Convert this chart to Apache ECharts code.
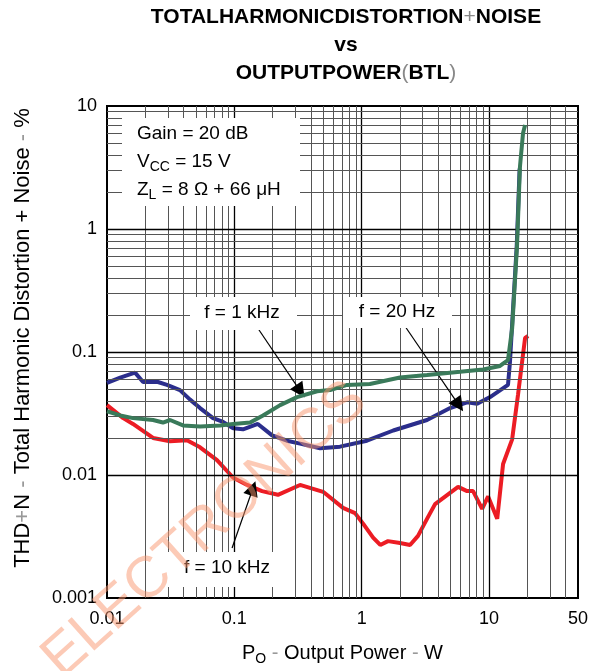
<!DOCTYPE html>
<html>
<head>
<meta charset="utf-8">
<script src="https://cdn.jsdelivr.net/npm/echarts@6/dist/echarts.min.js"></script>
<style>
  html, body { margin: 0; padding: 0; background: #fff; }
  #chart { width: 602px; height: 671px; }
</style>
</head>
<body>
<div id="chart"></div>
<script>
  // THD+N vs output power (BTL)
  // [output power W, THD+N %]
  var f20Hz = [
    [0.01, 0.056], [0.0127, 0.062], [0.0166, 0.068], [0.0192, 0.057], [0.0251, 0.057],
    [0.0296, 0.054], [0.0374, 0.049], [0.0449, 0.041], [0.0538, 0.035], [0.068, 0.029],
    [0.0815, 0.027], [0.098, 0.024], [0.117, 0.0235], [0.153, 0.026], [0.198, 0.021],
    [0.259, 0.019], [0.328, 0.018], [0.471, 0.0165], [0.676, 0.017], [1.1, 0.019],
    [1.77, 0.023], [3.26, 0.028], [4.95, 0.035], [6.73, 0.039], [8.07, 0.038],
    [10.2, 0.043], [14.1, 0.054], [14.6, 0.082], [15.1, 0.15], [16.5, 0.72],
    [17.4, 3.1]
  ];
  var f1kHz = [
    [0.01, 0.033], [0.0127, 0.0305], [0.016, 0.029], [0.023, 0.028], [0.0275, 0.0267],
    [0.0313, 0.028], [0.0395, 0.0253], [0.0538, 0.0248], [0.0773, 0.0253], [0.098, 0.026],
    [0.133, 0.0267], [0.168, 0.0305], [0.229, 0.037], [0.311, 0.043], [0.447, 0.048],
    [0.565, 0.049], [0.768, 0.054], [1.16, 0.055], [2.0, 0.062], [3.26, 0.065],
    [5.93, 0.069], [9.0, 0.072], [12.2, 0.077], [14.1, 0.086], [15.2, 0.156],
    [16.6, 0.73], [17.5, 3.2], [18.5, 6.0], [19.2, 7.0]
  ];
  var f10kHz = [
    [0.01, 0.037], [0.0134, 0.029], [0.016, 0.026], [0.023, 0.020], [0.0313, 0.0188],
    [0.0425, 0.0192], [0.0538, 0.0168], [0.0731, 0.0132], [0.098, 0.0095], [0.126, 0.0083],
    [0.165, 0.0074], [0.22, 0.0069], [0.328, 0.0083], [0.498, 0.0073], [0.714, 0.0054],
    [0.887, 0.0049], [1.03, 0.0040], [1.23, 0.0031], [1.4, 0.0027], [1.61, 0.0029],
    [2.0, 0.0028], [2.4, 0.0027], [2.77, 0.0032], [3.26, 0.0044], [3.77, 0.0058],
    [5.72, 0.0080], [6.73, 0.0074], [7.5, 0.0074], [8.83, 0.0053], [9.84, 0.0067],
    [11.6, 0.0044], [12.9, 0.0123], [15.2, 0.0195], [16.9, 0.045], [19.2, 0.13],
    [20.3, 0.135]
  ];

  // grid decades and minor steps of the log paper
  var xDecades = [0.01, 0.1, 1, 10];
  var yDecades = [0.001, 0.01, 0.1, 1];
  var minorSteps = [2, 3, 4, 5, 6, 7, 8, 9];
  var xMax = 50;

  // arrows: [label end, curve end]
  var arrow1kHz = [[0.153, 0.156], [0.33, 0.048]];
  var arrow20Hz = [[2.19, 0.162], [5.8, 0.037]];
  var arrow10kHz = [[0.096, 0.00255], [0.14, 0.0078]];

  var myChart = echarts.init(document.getElementById('chart'));

  var gridLines = [];
  xDecades.forEach(function (d, i) {
    if (i > 0) gridLines.push({ xAxis: d, lineStyle: { color: '#000', width: 1.3, type: 'solid' } });
    minorSteps.forEach(function (k) {
      if (d * k < xMax) gridLines.push({ xAxis: d * k, lineStyle: { color: '#555', width: 1, type: 'solid' } });
    });
  });
  yDecades.forEach(function (d, i) {
    if (i > 0) gridLines.push({ yAxis: d, lineStyle: { color: '#000', width: 1.3, type: 'solid' } });
    minorSteps.forEach(function (k) {
      gridLines.push({ yAxis: d * k, lineStyle: { color: '#555', width: 1, type: 'solid' } });
    });
  });

  function arrowLine(a) {
    return [{ coord: a[0] }, { coord: a[1] }];
  }

  var fontFam = '"Liberation Sans", Arial, sans-serif';
  var lblFont = '19px ' + fontFam;

  function box(x, y, w, h) {
    return { type: 'rect', z: 100, shape: { x: x, y: y, width: w, height: h }, style: { fill: '#fff' } };
  }
  function label(text, x, y) {
    return {
      type: 'text', z: 101, x: x, y: y,
      style: { text: text, font: lblFont, fill: '#000', align: 'center', verticalAlign: 'middle' }
    };
  }
  function richLine(text, x, y) {
    return {
      type: 'text', z: 101, x: x, y: y,
      style: {
        text: text, fill: '#000', align: 'left', verticalAlign: 'middle',
        rich: {
          a: { fontSize: 19, fontFamily: fontFam, lineHeight: 24 },
          s: { fontSize: 14, fontFamily: fontFam, verticalAlign: 'bottom' }
        }
      }
    };
  }

  var option = {
    animation: false,
    title: {
      text: '{b|TOTALHARMONICDISTORTION}{l|+}{b|NOISE}\n{b|vs}\n{b|OUTPUTPOWER}{l|(}{b|BTL}{l|)}',
      left: 341,
      top: -2,
      textAlign: 'center',
      textStyle: {
        lineHeight: 28,
        rich: {
          b: { fontSize: 21, fontWeight: 'bold', fontFamily: fontFam, color: '#000', lineHeight: 28 },
          l: { fontSize: 21, fontWeight: 'normal', fontFamily: fontFam, color: '#888', lineHeight: 28 }
        }
      }
    },
    grid: {
      left: 107, right: 24, top: 106, bottom: 69,
      show: true, borderColor: '#000', borderWidth: 2, backgroundColor: '#fff'
    },
    xAxis: {
      type: 'log', logBase: 10, min: 0.01, max: xMax,
      axisLine: { show: false }, axisTick: { show: false }, splitLine: { show: false },
      axisLabel: {
        fontSize: 18, fontFamily: fontFam, color: '#000', margin: 12,
        formatter: function (v) { return String(+(+v).toPrecision(3)); }
      },
      name: '{a|P}{s|O}{d| - }{a|Output Power}{d| - }{a|W}',
      nameLocation: 'middle',
      nameGap: 42,
      nameTextStyle: {
        rich: {
          a: { fontSize: 20, fontFamily: fontFam, color: '#000', lineHeight: 26 },
          s: { fontSize: 14, fontFamily: fontFam, color: '#000', verticalAlign: 'bottom' },
          d: { fontSize: 20, fontFamily: fontFam, color: '#999', lineHeight: 26 }
        }
      }
    },
    yAxis: {
      type: 'log', logBase: 10, min: 0.001, max: 10,
      axisLine: { show: false }, axisTick: { show: false }, splitLine: { show: false },
      axisLabel: {
        fontSize: 18, fontFamily: fontFam, color: '#000', margin: 10,
        formatter: function (v) { return String(+(+v).toPrecision(3)); }
      }
    },
    series: [
      {
        name: 'grid', type: 'line', data: [[0.01, 0.001]], showSymbol: false,
        lineStyle: { opacity: 0 }, silent: true, z: 1,
        markLine: {
          silent: true, symbol: ['none', 'none'], label: { show: false },
          lineStyle: { type: 'solid' },
          animation: false, data: gridLines
        }
      },
      {
        name: 'f = 20 Hz', type: 'line', data: f20Hz, showSymbol: false, z: 3,
        lineStyle: { color: '#2B2E8C', width: 4 }
      },
      {
        name: 'f = 10 kHz', type: 'line', data: f10kHz, showSymbol: false, z: 4,
        lineStyle: { color: '#EC1C24', width: 4 }
      },
      {
        name: 'f = 1 kHz', type: 'line', data: f1kHz, showSymbol: false, z: 5,
        lineStyle: { color: '#3A7A5A', width: 4 }
      },
      {
        name: 'arrows', type: 'line', data: [[0.01, 0.001]], showSymbol: false,
        lineStyle: { opacity: 0 }, silent: true, z: 6,
        markLine: {
          silent: true, symbol: ['none', 'triangle'], symbolSize: 15,
          label: { show: false }, animation: false,
          itemStyle: { color: '#000' },
          lineStyle: { color: '#000', width: 1.2, type: 'solid' },
          data: [arrowLine(arrow1kHz), arrowLine(arrow20Hz), arrowLine(arrow10kHz)]
        }
      }
    ],
    graphic: [
      {
        // y axis title, rotated
        type: 'text', z: 50, x: 23, y: 338, rotation: Math.PI / 2,
        style: {
          text: '{a|THD}{d|+}{a|N }{d|-}{a| Total Harmonic Distortion + Noise }{d|-}{a| %}',
          align: 'center', verticalAlign: 'middle',
          rich: {
            a: { fontSize: 22, fontFamily: fontFam, fill: '#000', color: '#000' },
            d: { fontSize: 22, fontFamily: fontFam, fill: '#999', color: '#999' }
          }
        }
      },
      box(122, 118, 178, 88),
      richLine('{a|Gain = 20 dB}', 137, 134),
      richLine('{a|V}{s|CC}{a| = 15 V}', 137, 162),
      richLine('{a|Z}{s|L}{a| = 8 \u03A9 + 66 \u03BCH}', 137, 190),
      box(190, 297, 107, 33),
      label('f = 1 kHz', 242, 313),
      box(343, 297, 109, 31),
      label('f = 20 Hz', 397, 312),
      box(168, 552, 119, 35),
      label('f = 10 kHz', 227, 568),
      {
        type: 'text', z: 200, x: 205, y: 530, rotation: 0.73, silent: true,
        style: {
          text: 'ELECTRONICS', font: '58px ' + fontFam, align: 'center', verticalAlign: 'middle',
          fill: 'rgba(250,150,110,0.5)'
        }
      }
    ]
  };

  myChart.setOption(option);
</script>
</body>
</html>
